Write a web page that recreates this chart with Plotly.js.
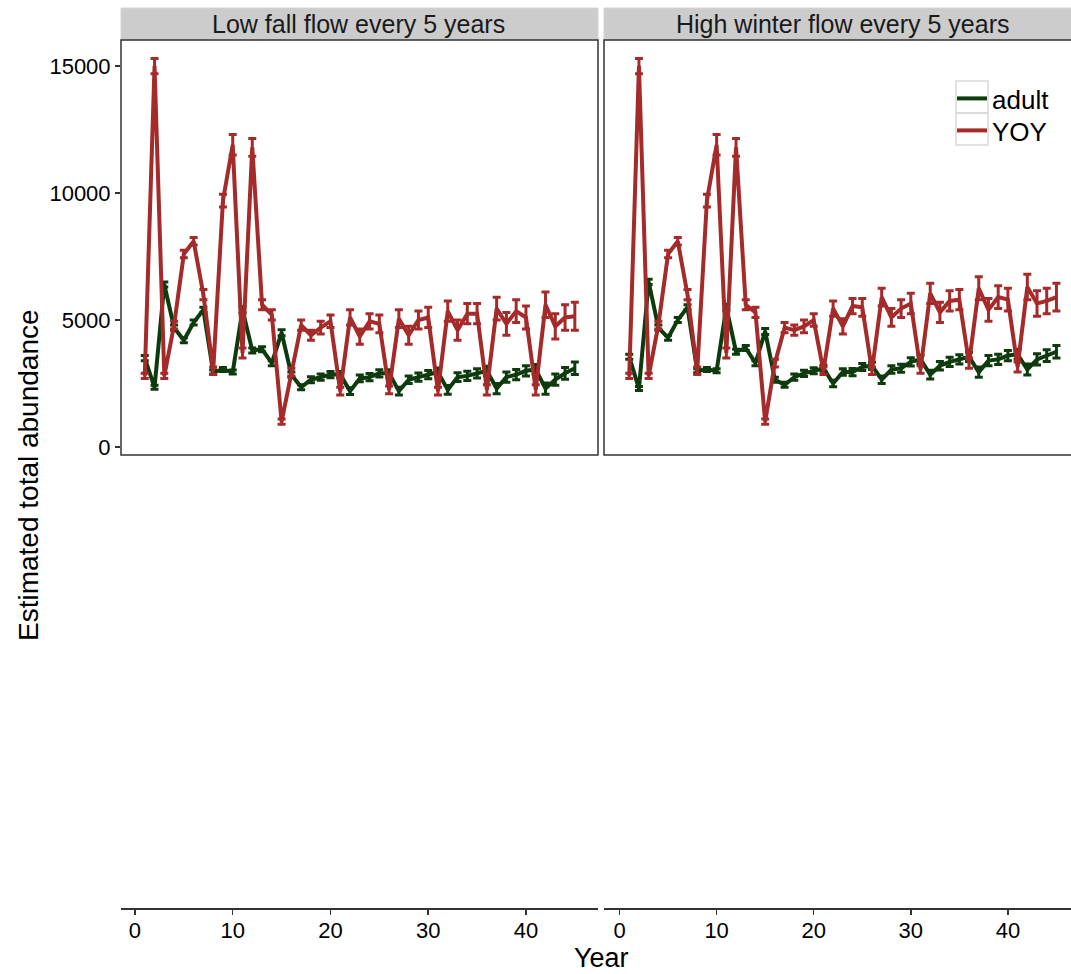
<!DOCTYPE html>
<html>
<head>
<meta charset="utf-8">
<script src="https://cdn.plot.ly/plotly-3.0.1.min.js"></script>
<style>html,body{margin:0;padding:0;background:#fff;}#chart{width:1071px;height:974px;}</style>
</head>
<body>
<div id="chart"></div>
<script>
// ---- data ----
const years = [1,2,3,4,5,6,7,8,9,10,11,12,13,14,15,16,17,18,19,20,21,22,23,24,25,26,27,28,29,30,31,32,33,34,35,36,37,38,39,40,41,42,43,44,45];
const panelTitles = ["Low fall flow every 5 years", "High winter flow every 5 years"];
const seriesNames = ["adult", "YOY"];

const lowFallAdult = [3500,2350,6400,4700,4200,4900,5400,2950,3050,2950,5400,3800,3850,3300,4500,
  2850,2350,2650,2750,2850,2850,2200,2700,2750,2900,2900,2200,2650,2750,2850,
  2950,2250,2750,2800,2900,3000,2300,2750,2850,3000,3050,2300,2650,2900,3100];
const lowFallYOY = [2800,15000,2800,4800,7600,8100,6000,3000,9700,11900,3700,11800,5600,5200,1000,
  2950,4800,4400,4700,4950,2200,5100,4350,4950,4850,2250,5050,4400,5000,5100,
  2200,5350,4600,5250,5250,2250,5450,4850,5350,5100,2250,5600,4750,5100,5150];

const highWinterAdult = [3550,2300,6500,4700,4300,5000,5500,3000,3050,3000,5500,3750,3900,3300,4550,
  2650,2450,2750,2900,3000,3100,2500,2950,2950,3150,3200,2650,3050,3100,3350,
  3450,2850,3200,3350,3450,3550,2950,3400,3450,3600,3650,3050,3450,3600,3750];
const highWinterYOY = [2800,15000,2800,4800,7600,8100,6000,3000,9700,11900,3700,11800,5600,5300,1000,
  3300,4700,4600,4750,5000,3000,5450,4750,5550,5500,3000,5900,5100,5450,5650,
  3050,6050,5300,5750,5800,3300,6250,5400,5900,5800,3150,6300,5650,5750,5900];

const errAdult = [100,80,100,100,100,100,100,80,80,80,120,100,100,100,120,
  100,100,120,120,120,120,130,130,140,140,140,150,150,160,160,
  160,170,170,180,180,180,200,200,200,200,200,220,220,230,250];
const errYOY = [100,300,100,150,150,150,200,150,250,400,200,350,200,200,100,
  150,200,200,250,250,150,300,300,300,350,150,350,350,350,400,
  150,400,400,400,400,200,450,450,450,450,200,500,500,500,550];

const yTicks = [0,5000,10000,15000];
const yTickText = ["0","5000","10000","15000"];
const xTicks = [0,10,20,30,40];

// ---- style ----
const W = 1071, H = 974;
const fx = p => p / W;
const fy = p => 1 - p / H;
const colAdult = "#0e3b0e";
const colYOY = "#a52a2a";
const FONT = "Liberation Sans, Arial, sans-serif";

function tr(x, y, err, name, color, xa, ya, show, leg) {
  return {
    type: "scatter", mode: "lines", x: x, y: y, name: name,
    xaxis: xa, yaxis: ya, legendgroup: name, showlegend: show, legend: leg,
    line: {color: color, width: 4},
    error_y: {type: "data", array: err, visible: true, color: color, thickness: 3, width: 4}
  };
}
// empty holders so the bottom (year) axes get their own subplots
function holder(xa, ya) {
  return {type: "scatter", mode: "lines", x: [], y: [], xaxis: xa, yaxis: ya, showlegend: false, hoverinfo: "skip"};
}

const data = [
  tr(years, lowFallAdult, errAdult, seriesNames[0], colAdult, "x", "y", false, "legend"),
  tr(years, lowFallYOY, errYOY, seriesNames[1], colYOY, "x", "y", false, "legend2"),
  tr(years, highWinterAdult, errAdult, seriesNames[0], colAdult, "x2", "y2", true, "legend"),
  tr(years, highWinterYOY, errYOY, seriesNames[1], colYOY, "x2", "y2", true, "legend2"),
  holder("x3", "y3"),
  holder("x4", "y4")
];

const p1 = [121, 598], p2 = [604, 1090];
const panelTop = 40, panelBot = 455, stripTop = 8, bottomAxisY = 908;
const xr1 = [-1.43, 47.37], xr2 = [-1.6, 46.5];
const yr = [-315, 16024];

const hiddenX = {showticklabels: false, ticks: "", showgrid: false, zeroline: false, showline: false};
const bottomX = {
  tickvals: xTicks, ticks: "outside", ticklen: 5, tickwidth: 1.5, tickcolor: "#333",
  showline: true, linecolor: "#333", linewidth: 1.5, showgrid: false, zeroline: false,
  ticklabelstandoff: -3,
  tickfont: {size: 22, color: "#000", family: FONT}
};
const tinyY = {range: [0, 1], showticklabels: false, ticks: "", showline: false, showgrid: false, zeroline: false};
const legBase = {
  xanchor: "left", yanchor: "top",
  font: {size: 26, family: FONT, color: "#000"},
  bgcolor: "rgba(0,0,0,0)", borderwidth: 0, itemwidth: 30
};

const layout = {
  width: W, height: H,
  margin: {l: 0, r: 0, t: 0, b: 0},
  paper_bgcolor: "#fff", plot_bgcolor: "#fff",
  font: {family: FONT, color: "#000"},
  showlegend: true,
  legend: Object.assign({x: fx(952), y: fy(75)}, legBase),
  legend2: Object.assign({x: fx(952), y: fy(107)}, legBase),
  xaxis: Object.assign({domain: [fx(p1[0]), fx(p1[1])], range: xr1, anchor: "y"}, hiddenX),
  yaxis: {
    domain: [fy(panelBot), fy(panelTop)], range: yr, anchor: "x",
    tickvals: yTicks, ticktext: yTickText, ticks: "outside", ticklen: 5, tickwidth: 1.5, tickcolor: "#333",
    showline: false, showgrid: false, zeroline: false,
    tickfont: {size: 22, color: "#000", family: FONT}
  },
  xaxis2: Object.assign({domain: [fx(p2[0]), 1], range: xr2, anchor: "y2"}, hiddenX),
  yaxis2: {domain: [fy(panelBot), fy(panelTop)], range: yr, anchor: "x2", showticklabels: false,
    ticks: "", showgrid: false, zeroline: false, showline: false},
  xaxis3: Object.assign({domain: [fx(p1[0]), fx(p1[1])], range: xr1, anchor: "y3"}, bottomX),
  yaxis3: Object.assign({domain: [fy(bottomAxisY), fy(bottomAxisY - 2)], anchor: "x3"}, tinyY),
  xaxis4: Object.assign({domain: [fx(p2[0]), 1], range: xr2, anchor: "y4"}, bottomX),
  yaxis4: Object.assign({domain: [fy(bottomAxisY), fy(bottomAxisY - 2)], anchor: "x4"}, tinyY),
  shapes: [
    {type: "rect", xref: "paper", yref: "paper", x0: fx(p1[0]), x1: fx(p1[1]), y0: fy(panelTop), y1: fy(stripTop),
      fillcolor: "#cccccc", line: {color: "#d4d4d4", width: 1}, layer: "below"},
    {type: "rect", xref: "paper", yref: "paper", x0: fx(p2[0]), x1: fx(p2[1]), y0: fy(panelTop), y1: fy(stripTop),
      fillcolor: "#cccccc", line: {color: "#d4d4d4", width: 1}, layer: "below"},
    {type: "rect", xref: "paper", yref: "paper", x0: fx(p1[0]), x1: fx(p1[1]), y0: fy(panelBot), y1: fy(panelTop),
      line: {color: "#333", width: 1.5}, layer: "above"},
    {type: "rect", xref: "paper", yref: "paper", x0: fx(p2[0]), x1: fx(p2[1]), y0: fy(panelBot), y1: fy(panelTop),
      line: {color: "#333", width: 1.5}, layer: "above"},
    {type: "rect", xref: "paper", yref: "paper", x0: fx(956), x1: fx(988), y0: fy(113), y1: fy(81),
      line: {color: "#d9d9d9", width: 1.5}},
    {type: "rect", xref: "paper", yref: "paper", x0: fx(956), x1: fx(988), y0: fy(145), y1: fy(113),
      line: {color: "#d9d9d9", width: 1.5}}
  ],
  annotations: [
    {text: panelTitles[0], xref: "paper", yref: "paper", x: fx(358), y: fy(24),
      showarrow: false, xanchor: "center", yanchor: "middle", font: {size: 25, family: FONT, color: "#1a1a1a"}},
    {text: panelTitles[1], xref: "paper", yref: "paper", x: fx(842), y: fy(24),
      showarrow: false, xanchor: "center", yanchor: "middle", font: {size: 25, family: FONT, color: "#1a1a1a"}},
    {text: "Estimated total abundance", xref: "paper", yref: "paper", x: fx(29), y: fy(475),
      showarrow: false, textangle: -90, xanchor: "center", yanchor: "middle", font: {size: 28, family: FONT, color: "#000"}},
    {text: "Year", xref: "paper", yref: "paper", x: fx(601), y: fy(958),
      showarrow: false, xanchor: "center", yanchor: "middle", font: {size: 27, family: FONT, color: "#000"}}
  ]
};

Plotly.newPlot("chart", data, layout, {displayModeBar: false, staticPlot: true});
</script>
</body>
</html>
